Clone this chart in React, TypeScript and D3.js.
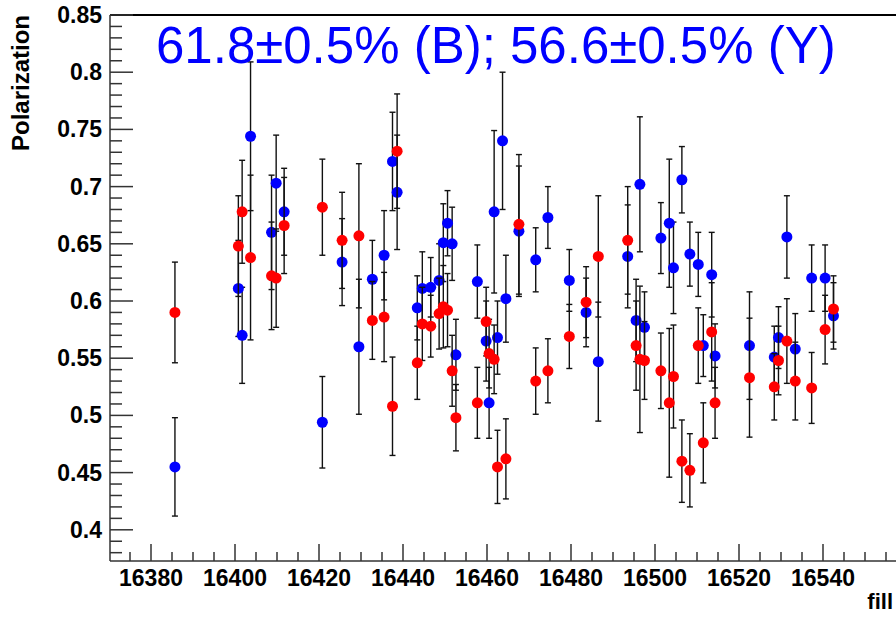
import React from "react";
import * as d3 from "d3";

const fillB = [16385.7, 16400.8, 16401.7, 16403.7, 16408.7, 16409.8, 16411.7, 16420.8, 16425.5, 16429.5, 16432.7, 16435.5, 16437.5, 16438.6, 16443.4, 16444.6, 16446.6, 16448.6, 16449.6, 16450.6, 16451.7, 16452.6, 16457.7, 16459.8, 16460.5, 16461.7, 16462.5, 16463.7, 16464.5, 16467.6, 16471.6, 16474.5, 16479.6, 16483.6, 16486.5, 16493.5, 16495.5, 16496.4, 16497.5, 16501.4, 16503.4, 16504.4, 16506.4, 16508.3, 16510.3, 16511.5, 16513.5, 16514.3, 16522.5, 16528.4, 16529.4, 16531.4, 16533.4, 16537.3, 16540.5, 16542.5];
const polB = [0.455, 0.611, 0.570, 0.744, 0.660, 0.703, 0.678, 0.494, 0.634, 0.560, 0.619, 0.640, 0.722, 0.695, 0.594, 0.611, 0.612, 0.618, 0.651, 0.668, 0.650, 0.553, 0.617, 0.565, 0.511, 0.678, 0.568, 0.740, 0.602, 0.661, 0.636, 0.673, 0.618, 0.590, 0.547, 0.639, 0.583, 0.702, 0.577, 0.655, 0.668, 0.629, 0.706, 0.641, 0.632, 0.561, 0.623, 0.552, 0.561, 0.551, 0.568, 0.656, 0.558, 0.620, 0.620, 0.587];
const errB = [0.043, 0.042, 0.042, 0.065, 0.050, 0.042, 0.038, 0.040, 0.038, 0.059, 0.034, 0.039, 0.043, 0.050, 0.028, 0.032, 0.026, 0.032, 0.034, 0.0285, 0.032, 0.031, 0.032, 0.035, 0.031, 0.071, 0.032, 0.060, 0.038, 0.057, 0.028, 0.027, 0.027, 0.030, 0.052, 0.045, 0.036, 0.059, 0.031, 0.031, 0.056, 0.040, 0.029, 0.028, 0.028, 0.027, 0.037, 0.028, 0.047, 0.027, 0.027, 0.036, 0.031, 0.029, 0.029, 0.029];

const fillY = [16385.7, 16400.8, 16401.7, 16403.7, 16408.7, 16409.8, 16411.7, 16420.8, 16425.5, 16429.5, 16432.7, 16435.5, 16437.5, 16438.6, 16443.4, 16444.6, 16446.6, 16448.6, 16449.6, 16450.6, 16451.7, 16452.6, 16457.7, 16459.8, 16460.5, 16461.7, 16462.5, 16464.5, 16467.6, 16471.6, 16474.5, 16479.6, 16483.6, 16486.5, 16493.5, 16495.5, 16496.4, 16497.5, 16501.4, 16503.4, 16504.4, 16506.4, 16508.3, 16510.3, 16511.5, 16513.5, 16514.3, 16522.5, 16528.4, 16529.4, 16531.4, 16533.4, 16537.3, 16540.5, 16542.5];
const polY = [0.590, 0.648, 0.678, 0.638, 0.622, 0.620, 0.666, 0.682, 0.653, 0.657, 0.583, 0.586, 0.508, 0.731, 0.546, 0.580, 0.578, 0.589, 0.595, 0.592, 0.539, 0.498, 0.511, 0.582, 0.554, 0.549, 0.455, 0.462, 0.667, 0.530, 0.539, 0.569, 0.599, 0.639, 0.653, 0.561, 0.549, 0.548, 0.539, 0.511, 0.534, 0.460, 0.452, 0.561, 0.476, 0.573, 0.511, 0.533, 0.525, 0.548, 0.565, 0.530, 0.524, 0.575, 0.593];
const errY = [0.044, 0.044, 0.045, 0.072, 0.047, 0.043, 0.042, 0.042, 0.042, 0.063, 0.034, 0.039, 0.043, 0.050, 0.032, 0.032, 0.027, 0.031, 0.036, 0.032, 0.031, 0.029, 0.031, 0.030, 0.030, 0.030, 0.032, 0.035, 0.061, 0.029, 0.028, 0.028, 0.031, 0.053, 0.047, 0.039, 0.064, 0.034, 0.033, 0.065, 0.045, 0.036, 0.032, 0.033, 0.035, 0.043, 0.031, 0.052, 0.029, 0.030, 0.037, 0.034, 0.031, 0.030, 0.029];

const xMajor = [16380, 16400, 16420, 16440, 16460, 16480, 16500, 16520, 16540];
const yMajor = [0.4, 0.45, 0.5, 0.55, 0.6, 0.65, 0.7, 0.75, 0.8, 0.85];
const yLabels = ["0.4", "0.45", "0.5", "0.55", "0.6", "0.65", "0.7", "0.75", "0.8", "0.85"];

const titleText = "61.8\u00b10.5% (B); 56.6\u00b10.5% (Y)";
const xTitle = "fill";
const yTitle = "Polarization";

const W = 896;
const H = 617;
const L = 110, T = 15, B = 561;
const pxPerFill = 4.2;
const x0 = 16380 - (151 - L) / pxPerFill;
const xEnd = 16558;
const x = d3.scaleLinear().domain([x0, xEnd]).range([L, L + (xEnd - x0) * pxPerFill]);
const pxPerUnitY = 57.2 / 0.05;
const y = d3.scaleLinear().domain([0.85 - (B - T) / pxPerUnitY, 0.85]).range([B, T]);

const FONT = "'Liberation Sans', Arial, Helvetica, sans-serif";

function Series({ xs, ys, es, color }: { xs: number[]; ys: number[]; es: number[]; color: string }) {
  return (
    <g>
      {xs.map((f, i) => {
        const cx = x(f);
        const yt = Math.max(T, y(ys[i] + es[i]));
        const yb = Math.min(B, y(ys[i] - es[i]));
        return (
          <g key={"e" + i} stroke="#111" strokeWidth={1.4}>
            <line x1={cx} x2={cx} y1={yt} y2={yb} />
            <line x1={cx - 3} x2={cx + 3} y1={yt} y2={yt} />
            <line x1={cx - 3} x2={cx + 3} y1={yb} y2={yb} />
          </g>
        );
      })}
      {xs.map((f, i) => (
        <circle key={"m" + i} cx={x(f)} cy={y(ys[i])} r={5.5} fill={color} />
      ))}
    </g>
  );
}

export default function App() {
  const xMinor = d3.range(16375, 16558, 5).filter((v) => !xMajor.includes(v));
  const yMinor = d3.range(38, 86, 1).map((v) => v / 100).filter((v) => !yMajor.some((m) => Math.abs(m - v) < 1e-6));
  return (
    <svg width={W} height={H} style={{ position: "fixed", left: 0, top: 0, background: "#fff" }}>
      <rect x={0} y={0} width={W} height={H} fill="#fff" />
      <defs>
        <clipPath id="frame">
          <rect x={L} y={T} width={W} height={B - T} />
        </clipPath>
      </defs>
      <g clipPath="url(#frame)">
        <Series xs={fillB} ys={polB} es={errB} color="#0000ff" />
        <Series xs={fillY} ys={polY} es={errY} color="#ff0000" />
      </g>
      <line x1={L} x2={W} y1={T} y2={T} stroke="#000" strokeWidth={2} />
      <line x1={L} x2={L} y1={T} y2={B} stroke="#333" strokeWidth={1.5} />
      {yMajor.map((v) => (
        <line key={"ym" + v} x1={L} x2={L + 23} y1={y(v)} y2={y(v)} stroke="#333" strokeWidth={1.5} />
      ))}
      {yMinor.map((v) => (
        <line key={"yn" + v} x1={L} x2={L + 12} y1={y(v)} y2={y(v)} stroke="#333" strokeWidth={1.5} />
      ))}
      {yMajor.map((v, i) => (
        <text key={"yl" + v} x={102} y={y(v) + 8} textAnchor="end" fontFamily={FONT} fontWeight="bold" fontSize={23} fill="#000">
          {yLabels[i]}
        </text>
      ))}
      <line x1={L} x2={W} y1={B} y2={B} stroke="#333" strokeWidth={1.5} />
      {xMajor.map((v) => (
        <line key={"xm" + v} x1={x(v)} x2={x(v)} y1={B} y2={B - 17} stroke="#333" strokeWidth={1.5} />
      ))}
      {xMinor.map((v) => (
        <line key={"xn" + v} x1={x(v)} x2={x(v)} y1={B} y2={B - 9} stroke="#333" strokeWidth={1.5} />
      ))}
      {xMajor.map((v) => (
        <text key={"xl" + v} x={x(v)} y={586} textAnchor="middle" fontFamily={FONT} fontWeight="bold" fontSize={23} fill="#000">
          {String(v)}
        </text>
      ))}
      <text transform={`translate(29,${T}) rotate(-90)`} textAnchor="end" fontFamily={FONT} fontWeight="bold" fontSize={24} fill="#000">
        {yTitle}
      </text>
      <text x={893} y={609} textAnchor="end" fontFamily={FONT} fontWeight="bold" fontSize={22} fill="#000">
        {xTitle}
      </text>
      <text x={156} y={63} fontFamily={FONT} fontSize={51} fill="#0000ff">
        {titleText}
      </text>
    </svg>
  );
}
